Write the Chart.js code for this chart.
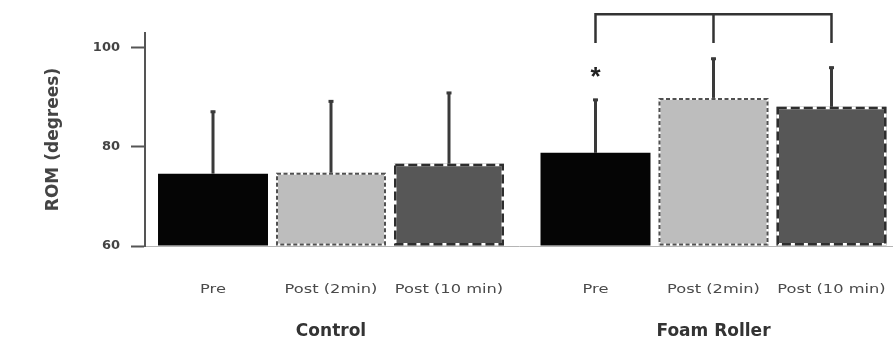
<!DOCTYPE html>
<html><head><meta charset="utf-8">
<script src="https://cdn.jsdelivr.net/npm/chart.js@4/dist/chart.umd.min.js"></script>
<style>html,body{margin:0;padding:0;background:#fff}canvas{display:block}</style>
</head><body>
<canvas id="c" width="893" height="342"></canvas>
<script>
// ---- data ----
const groups = ['Control', 'Foam Roller'];
const timepoints = ['Pre', 'Post (2min)', 'Post (10 min)'];
const preMean = [74.6, 78.8];
const preSD = [12.7, 10.9];
const post2Mean = [74.8, 89.9];
const post2SD = [14.6, 8.1];
const post10Mean = [76.6, 88.1];
const post10SD = [14.5, 8.1];
const yTicks = [60, 80, 100];
const yTitle = 'ROM (degrees)';
const sigMark = '*';
const bracketTopValue = 106.8;
const bracketLegValue = 101.0;
const starValue = 95.0;

const means = [preMean, post2Mean, post10Mean];
const sds = [preSD, post2SD, post10SD];
const fills = ['#050505', '#bdbdbd', '#575757'];
const dashStyles = [null, {color: '#505050', dash: [4, 2.5], width: 2}, {color: '#2e2e2e', dash: [9, 4], width: 2.5}];

const FONT = '"DejaVu Sans", "Open Sans", sans-serif';

const datasets = timepoints.map((t, d) => ({
  label: t,
  data: means[d].map((v, i) => ({x: i, y: v})),
  backgroundColor: fills[d],
  borderWidth: 0,
  base: 60,
  categoryPercentage: 0.9255,
  barPercentage: 0.932
}));

const decorPlugin = {
  id: 'decor',
  afterDatasetsDraw(chart) {
    const ctx = chart.ctx;
    const ys = chart.scales.y;
    // dashed borders
    chart.data.datasets.forEach((ds, d) => {
      const st = dashStyles[d];
      if (!st) return;
      chart.getDatasetMeta(d).data.forEach(el => {
        const p = el.getProps(['x', 'y', 'base', 'width'], true);
        const h = st.width / 2;
        const l = p.x - p.width / 2 + h, t = p.y + h, w = p.width - st.width, hh = p.base - p.y - st.width;
        ctx.save();
        ctx.lineWidth = st.width;
        ctx.strokeStyle = '#ffffff';
        ctx.setLineDash([]);
        ctx.strokeRect(l, t, w, hh);
        ctx.strokeStyle = st.color;
        ctx.setLineDash(st.dash);
        ctx.strokeRect(l, t, w, hh);
        ctx.restore();
      });
    });
    // error bars (upper only)
    ctx.save();
    ctx.strokeStyle = '#3a3a3a';
    ctx.lineWidth = 3;
    chart.data.datasets.forEach((ds, d) => {
      chart.getDatasetMeta(d).data.forEach((el, i) => {
        const p = el.getProps(['x', 'y'], true);
        const top = ys.getPixelForValue(means[d][i] + sds[d][i]);
        ctx.beginPath();
        ctx.moveTo(p.x, p.y);
        ctx.lineTo(p.x, top);
        ctx.stroke();
        ctx.beginPath();
        ctx.moveTo(p.x - 2.5, top + 1);
        ctx.lineTo(p.x + 2.5, top + 1);
        ctx.stroke();
      });
    });
    ctx.restore();
    // sub-labels under each bar
    ctx.save();
    ctx.font = '12.5px ' + FONT;
    ctx.fillStyle = '#4a4a4a';
    ctx.textAlign = 'center';
    ctx.textBaseline = 'middle';
    chart.data.datasets.forEach((ds, d) => {
      chart.getDatasetMeta(d).data.forEach(el => {
        ctx.save();
        ctx.translate(el.x, 290);
        ctx.scale(1.3, 1);
        ctx.fillText(timepoints[d], 0, 0);
        ctx.restore();
      });
    });
    ctx.restore();
    // significance bracket on Foam Roller group
    const xs = [0, 1, 2].map(d => chart.getDatasetMeta(d).data[1].x);
    const yTop = ys.getPixelForValue(bracketTopValue);
    const yLeg = ys.getPixelForValue(bracketLegValue);
    ctx.save();
    ctx.strokeStyle = '#333';
    ctx.lineWidth = 2.5;
    ctx.beginPath();
    ctx.moveTo(xs[0], yLeg);
    ctx.lineTo(xs[0], yTop);
    ctx.lineTo(xs[2], yTop);
    ctx.lineTo(xs[2], yLeg);
    ctx.moveTo(xs[1], yTop);
    ctx.lineTo(xs[1], yLeg);
    ctx.stroke();
    ctx.fillStyle = '#222';
    ctx.font = 'bold 26px "Liberation Sans", sans-serif';
    ctx.textAlign = 'center';
    ctx.textBaseline = 'middle';
    ctx.fillText(sigMark, xs[0], ys.getPixelForValue(starValue) + 5);
    ctx.restore();
  }
};

new Chart(document.getElementById('c'), {
  type: 'bar',
  data: {datasets},
  options: {
    responsive: false,
    animation: false,
    devicePixelRatio: 1,
    layout: {padding: {top: 33, right: 0, left: 0, bottom: 0}},
    plugins: {legend: {display: false}, tooltip: {enabled: false}},
    scales: {
      x: {
        type: 'linear',
        offset: false,
        min: -0.4863,
        max: 1.4693,
        grid: {display: false, drawTicks: false},
        border: {display: true, color: '#b5b5b5', width: 1},
        afterBuildTicks: s => { s.ticks = groups.map((g, i) => ({value: i})); },
        afterFit: s => { s.height = 96; },
        ticks: {
          autoSkip: false, maxRotation: 0, padding: 75,
          color: '#333',
          font: {family: FONT, size: 17, weight: 'bold'},
          callback: v => groups[v] !== undefined ? groups[v] : ''
        }
      },
      y: {
        min: 60,
        max: 103,
        afterBuildTicks: s => { s.ticks = yTicks.map(v => ({value: v})); },
        afterFit: s => { s.width = 145; },
        grid: {display: true, drawOnChartArea: false, drawTicks: true, tickLength: 14, tickColor: '#555', tickWidth: 2},
        border: {display: true, color: '#555', width: 2},
        ticks: {
          padding: 11, color: '#444',
          font: {family: FONT, size: 13, weight: 'bold'}
        },
        title: {
          display: true, text: yTitle, color: '#444',
          font: {family: FONT, size: 17, weight: 'bold'},
          padding: {top: 43, bottom: 0}
        }
      }
    }
  },
  plugins: [decorPlugin]
});
</script>
</body></html>
